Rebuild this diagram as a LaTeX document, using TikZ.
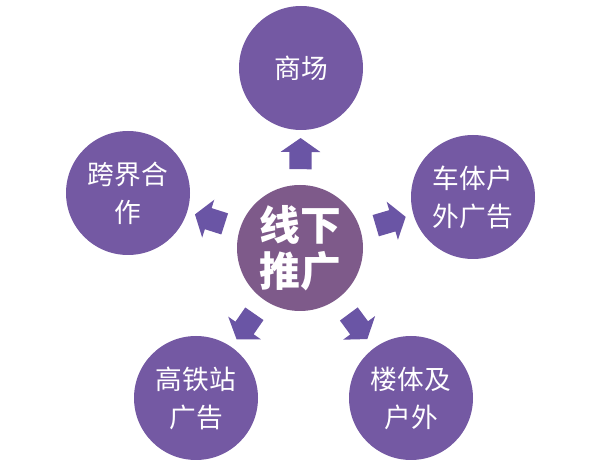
\documentclass[tikz,border=0pt]{standalone}
\usepackage{fontspec}
\newfontfamily\cjk{Noto Sans CJK SC}
\usepackage{tikz}
\usetikzlibrary{shapes.arrows, positioning}

\definecolor{outerpurple}{HTML}{7459A3}
\definecolor{hubpurple}{HTML}{7E5A8A}
\definecolor{arrowpurple}{HTML}{6A55A5}

\tikzset{
    channel/.style={circle, fill=outerpurple, text=white, minimum size=3.1cm,
        inner sep=0pt, align=center, font=\cjk\fontsize{19}{27}\selectfont},
    hub/.style={circle, fill=hubpurple, text=white, minimum size=3.15cm,
        inner sep=0pt, align=center, font=\cjk\bfseries\fontsize{29}{33}\selectfont},
    pushbox/.style={single arrow, fill=arrowpurple, draw=none, inner sep=0.27cm,
        minimum height=0.78cm, single arrow head extend=0.22cm,
        single arrow tip angle=110, sloped, allow upside down}
}

\begin{document}
\begin{tikzpicture}
        \useasboundingbox (0,0) rectangle (15,11.575);
        \node[hub] (H) at (7.5,5.375) {线下\\推广};
        \node[channel] (T) at (7.525,9.875) {商场};
        \node[channel] (R) at (11.825,6.65) {车体户\\外广告};
        \node[channel] (L) at (3.2,6.75) {跨界合\\作};
        \node[channel] (BL) at (4.9,1.625) {高铁站\\广告};
        \node[channel] (BR) at (10.275,1.625) {楼体及\\户外};
        \path (H) -- node[pushbox] {} (T);
        \path (H) -- node[pushbox] {} (R);
        \path (H) -- node[pushbox] {} (L);
        \path (H) -- node[pushbox] {} (BL);
        \path (H) -- node[pushbox] {} (BR);
    \end{tikzpicture}
\end{document}
